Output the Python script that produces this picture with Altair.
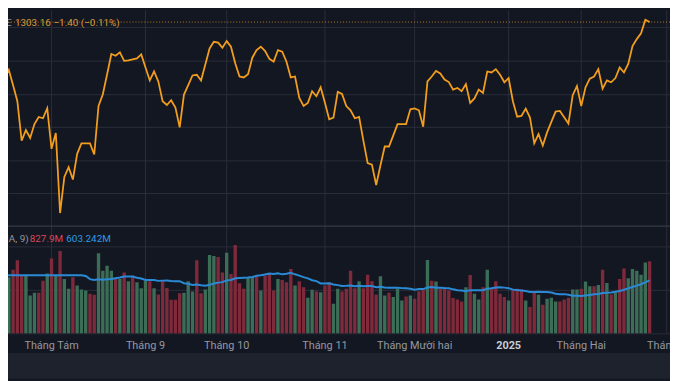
import altair as alt
import pandas as pd

# ---------------- data ----------------
closes = [
    1269.4, 1274.4, 1265.1, 1255.5, 1231.7, 1238.1, 1233.3, 1241.7, 1246.0, 1245.2,
    1251.2, 1226.8, 1236.3, 1188.1, 1209.9, 1215.8, 1208.3, 1223.8, 1230.1, 1230.1,
    1230.1, 1223.4, 1252.6, 1259.5, 1271.6, 1283.9, 1282.9, 1284.9, 1279.8, 1280.1,
    1280.7, 1281.3, 1283.7, 1275.8, 1268.0, 1273.4, 1267.4, 1255.5, 1253.2, 1256.1,
    1251.6, 1239.7, 1259.5, 1265.2, 1271.0, 1271.4, 1268.0, 1277.6, 1287.3, 1291.3,
    1290.8, 1287.7, 1291.7, 1288.3, 1278.3, 1270.4, 1269.8, 1271.8, 1281.7, 1286.3,
    1288.3, 1285.7, 1281.0, 1279.3, 1286.3, 1285.3, 1279.3, 1269.8, 1270.4, 1257.5,
    1252.6, 1254.5, 1261.5, 1258.5, 1263.9, 1254.5, 1244.6, 1245.6, 1261.1, 1259.9,
    1252.6, 1250.0, 1245.2, 1246.0, 1231.7, 1218.2, 1217.3, 1205.0, 1216.9, 1228.2,
    1228.2, 1234.9, 1241.7, 1241.7, 1241.7, 1250.6, 1251.2, 1250.0, 1240.1, 1267.4,
    1270.4, 1273.7, 1272.2, 1268.5, 1267.0, 1262.5, 1263.5, 1261.5, 1265.8, 1254.5,
    1257.2, 1262.5, 1260.5, 1273.4, 1272.8, 1274.8, 1271.4, 1266.9, 1269.4, 1255.5,
    1246.2, 1246.6, 1251.0, 1245.6, 1230.1, 1235.7, 1228.8, 1236.7, 1243.0, 1249.2,
    1249.6, 1245.8, 1242.0, 1259.1, 1264.6, 1252.6, 1263.9, 1269.1, 1270.4, 1274.8,
    1263.1, 1268.0, 1266.9, 1269.4, 1275.8, 1272.8, 1278.0, 1288.7, 1292.9, 1296.4,
    1304.56, 1303.16,
]

volumes = [
    1181.5, 643.8, 730.9, 840.7, 662.7, 662.7, 435.5, 465.8, 465.8, 605.9,
    689.2, 859.6, 670.3, 946.8, 624.9, 511.2, 643.8, 549.1, 503.7, 492.3,
    454.4, 443.1, 920.2, 719.5, 776.3, 719.5, 624.9, 624.9, 700.6, 598.3,
    662.7, 587.0, 518.8, 605.9, 598.3, 518.8, 446.9, 605.9, 522.6, 386.3,
    386.3, 462.0, 465.8, 598.3, 480.9, 840.7, 462.0, 503.7, 901.3, 889.9,
    878.6, 700.6, 927.8, 681.7, 1014.9, 575.6, 511.2, 643.8, 643.8, 662.7,
    492.3, 662.7, 681.7, 492.3, 624.9, 613.5, 587.0, 738.5, 549.1, 598.3,
    530.2, 409.0, 499.9, 484.7, 473.4, 549.1, 587.0, 340.8, 511.2, 480.9,
    511.2, 719.5, 518.8, 598.3, 518.8, 674.1, 600.0, 446.9, 655.2, 435.5,
    465.8, 416.6, 511.2, 378.7, 424.1, 435.5, 397.6, 484.7, 499.9, 844.5,
    605.9, 594.6, 511.2, 511.2, 492.3, 405.2, 390.1, 367.3, 530.2, 670.3,
    454.4, 390.1, 530.2, 730.9, 511.2, 598.3, 454.4, 416.6, 378.7, 511.2,
    511.2, 503.7, 378.7, 303.0, 480.9, 443.1, 329.5, 397.6, 409.0, 367.3,
    367.3, 390.1, 409.0, 503.7, 503.7, 511.2, 594.6, 541.5, 541.5, 556.7,
    730.9, 579.4, 446.9, 473.4, 624.9, 746.0, 632.4, 738.5, 719.5, 674.1,
    814.2, 827.9,
]

# u = up (green) volume bar, d = down (red) volume bar; one letter per bar
vol_dir = list(
    "duddduuudd" "ududuuduuu" "dduuuududu" "duuududddd" "dduuudduuu"
    "ddudddduud" "udddudddud" "duududduud" "dddudddduu" "duuududddu"
    "duddddddud" "uududdddud" "ddudduduuu" "ddduuduudu" "dududduuuu"
    "ud"
)

tick_idx = [11, 33, 52, 75, 96, 118, 135, 155]
tick_labels = ["Tháng Tám", "Tháng 9", "Tháng 10", "Tháng 11",
               "Tháng Mười hai", "2025", "Tháng Hai", "Tháng 3"]
tick_bold = [False, False, False, False, False, True, False, False]

price_grid = [1200, 1220, 1240, 1260, 1280, 1300]
vol_grid = [500, 1000]
last_close = 1303.16
header_prefix = "SE"
header_close = "1303.16"
header_change = "\u22121.40 (\u22120.11%)"
vol_prefix = "MA, 9)"
vol_last = "827.9M"
vol_ma = "603.242M"
ma_period = 20

# ---------------- styling ----------------
BG = "#131722"
GRID = "#2a2e3a"
SEP = "#3d414c"
ORANGE = "#f29d1e"
GREEN = "#3b6d57"
RED = "#7e2a3b"
BLUE = "#2a8ad6"
FONT = "Roboto"

W, H = 670, 373
n = len(closes)
df = pd.DataFrame({
    "idx": list(range(n)),
    "close": closes,
    "volume": volumes[:n],
    "dir": vol_dir[:n],
})
ticks = pd.DataFrame({"idx": tick_idx, "label": tick_labels, "bold": tick_bold})
one = pd.DataFrame({"a": [0]})

xs = alt.Scale(domain=[1.966, 154.62], nice=False, zero=False)
price_scale = alt.Scale(domain=[1180, 1300], range=[218.9, 17.3], nice=False, zero=False)
vol_scale = alt.Scale(domain=[0, 1000], range=[327, 239], nice=False)

X = alt.X("idx:Q", scale=xs, axis=None)

band = alt.Chart(one).mark_rect(color="#1e222d").encode(
    x=alt.value(0), x2=alt.value(W), y=alt.value(347), y2=alt.value(H))

vgrid = alt.Chart(ticks).mark_rule(color=GRID, strokeWidth=1).encode(
    x=X, y=alt.value(0), y2=alt.value(327))

sep = alt.Chart(one).mark_rule(color=SEP, strokeWidth=1).encode(
    x=alt.value(0), x2=alt.value(W), y=alt.value(218.5))
bottom = alt.Chart(one).mark_rule(color="#2a2e39", strokeWidth=1).encode(
    x=alt.value(0), x2=alt.value(W), y=alt.value(327.5))

price_axis = alt.Axis(values=price_grid, grid=True, gridColor=GRID, labels=False,
                      ticks=False, domain=False, title=None)
vol_axis = alt.Axis(values=vol_grid, grid=True, gridColor=GRID, labels=False,
                    ticks=False, domain=False, title=None, orient="right")

price_line = alt.Chart(df).mark_line(color=ORANGE, strokeWidth=1.8, clip=True).encode(
    x=X, y=alt.Y("close:Q", scale=price_scale, axis=price_axis))
last_rule = alt.Chart(one).mark_rule(color=ORANGE, strokeDash=[1, 2], strokeWidth=1,
                                     opacity=0.75).encode(
    y=alt.Y(datum=last_close, scale=price_scale, axis=price_axis))
price_layer = alt.layer(last_rule, price_line)

bars = alt.Chart(df).mark_bar(size=3.4, clip=True).encode(
    x=X,
    y=alt.Y("volume:Q", scale=vol_scale, axis=vol_axis),
    color=alt.Color("dir:N", scale=alt.Scale(domain=["u", "d"], range=[GREEN, RED]),
                    legend=None),
)
# moving average of the volumes; before a full window exists, hold the first full value
ma = alt.Chart(df).transform_window(
    ma="mean(volume)", frame=[-(ma_period - 1), 0], sort=[alt.SortField("idx")]
).transform_window(
    window=[alt.WindowFieldDef(op="nth_value", field="ma", param=ma_period - 1, **{"as": "ma_first"})],
    frame=[None, None], sort=[alt.SortField("idx")]
).transform_calculate(
    ma_plot=f"datum.idx < {ma_period - 1} ? datum.ma_first : datum.ma"
).mark_line(color=BLUE, strokeWidth=2, clip=True).encode(
    x=X, y=alt.Y("ma_plot:Q", scale=vol_scale, axis=vol_axis))
vol_layer = alt.layer(bars, ma)

labels = alt.Chart(ticks).transform_filter("!datum.bold").mark_text(
    font=FONT, fontSize=11, color="#9598a1", baseline="middle").encode(
    x=X, y=alt.value(339.5), text="label:N")
labels_bold = alt.Chart(ticks).transform_filter("datum.bold").mark_text(
    font=FONT, fontSize=11, fontWeight="bold", color="#c8cbd2", baseline="middle").encode(
    x=X, y=alt.value(339.5), text="label:N")


def txt(s, x, y, color):
    return alt.Chart(pd.DataFrame({"t": [s]})).mark_text(
        font=FONT, fontSize=10, color=color, align="left", baseline="middle").encode(
        x=alt.value(x), y=alt.value(y), text="t:N")


h1 = txt(header_prefix, -8, 12.5, "#9598a1")
h2 = txt(header_close, 7, 12.5, "#dc9a35")
h3 = txt(header_change, 46, 12.5, "#dc9a35")
v1 = txt(vol_prefix, -8, 231.5, "#9598a1")
v2 = txt(vol_last, 22, 231.5, "#d8475c")
v3 = txt(vol_ma, 59, 231.5, "#2f9be0")

chart = alt.layer(
    band, vgrid, sep, bottom, price_layer, vol_layer, labels, labels_bold,
    h1, h2, h3, v1, v2, v3,
).resolve_scale(y="independent").properties(
    width=W, height=H, padding=0, autosize=alt.AutoSizeParams(type="none"),
    background=BG,
).configure_view(stroke=None)

chart.save("out.html", embed_options={"renderer": "svg", "actions": False})
